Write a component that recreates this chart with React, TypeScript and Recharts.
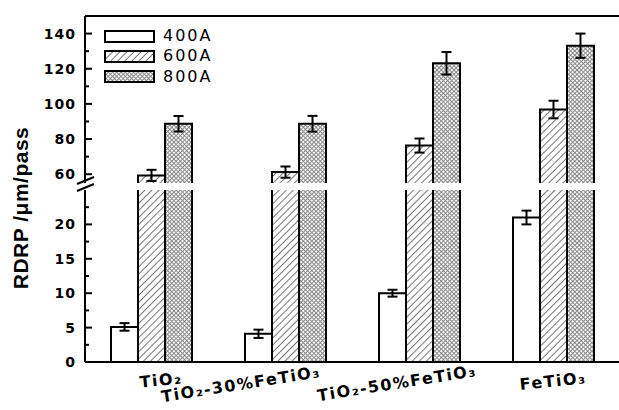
import React from "react";
import { BarChart, Bar, XAxis, YAxis, ErrorBar, Legend, ReferenceLine } from "recharts";

// RDRP (um/pass) per coating material and spray current
const materials = ["TiO₂", "TiO₂-30%FeTiO₃", "TiO₂-50%FeTiO₃", "FeTiO₃"];
const rate400 = [5.1, 4.1, 10.0, 21.0];
const rate600 = [59.3, 61.2, 76.3, 96.8];
const rate800 = [88.7, 88.7, 123.1, 133.1];
const err400 = [0.55, 0.6, 0.5, 1.0];
const err600 = [3.2, 3.2, 4.0, 5.0];
const err800 = [4.4, 4.5, 6.4, 6.9];

const upperTicks = [60, 70, 80, 90, 100, 110, 120, 130, 140];
const lowerTicks = [0, 2.5, 5, 7.5, 10, 12.5, 15, 17.5, 20, 22.5];

const data = materials.map((name, i) => ({
  name,
  a400: rate400[i],
  a600: rate600[i],
  a800: rate800[i],
  e400: err400[i],
  e600: err600[i],
  e800: err800[i],
}));

const SERIES = [
  { key: "a400", err: "e400", name: "400A", fill: "#ffffff" },
  { key: "a600", err: "e600", name: "600A", fill: "url(#hatch600)" },
  { key: "a800", err: "e800", name: "800A", fill: "url(#cross800)" },
];

const CHART_W = 640;
const AXIS_W = 85;
const TICK_GAP = 9;

// label placement for the tilted category names (offset from category centre)
const LABEL_POS = [
  { dx: 9, dy: 18, rot: -6 },
  { dx: -45, dy: 22, rot: -9 },
  { dx: -23, dy: 21, rot: -9 },
  { dx: -1, dy: 19, rot: -6 },
];

// bar with outline on left, top and right only (the break / axis hides the bottom)
const OpenBar = (props: any) => {
  let { x, y, width, height, fill, background } = props;
  if (height < 0) {
    y += height;
    height = -height;
  }
  if (!height) return null;
  // bar lies completely below this part of the broken axis
  if (background && y >= background.y + background.height - 0.5) return null;
  return (
    <g>
      <rect x={x} y={y} width={width} height={height} fill={fill} />
      <path
        d={`M${x},${y + height} V${y} H${x + width} V${y + height}`}
        fill="none"
        stroke="#000"
        strokeWidth={2}
      />
    </g>
  );
};

const makeYTick = (majorStep: number) => (props: any) => {
  const { x, y, payload } = props;
  const v = payload.value;
  const major = Math.abs(v % majorStep) < 1e-6;
  const axisX = x + TICK_GAP;
  return (
    <g>
      <line x1={axisX} x2={axisX + (major ? 7 : 4)} y1={y} y2={y} stroke="#000" strokeWidth={2} />
      {major && (
        <text
          x={x}
          y={y}
          dy="0.36em"
          textAnchor="end"
          fontFamily="DejaVu Sans"
          fontWeight="bold"
          fontSize={14}
          letterSpacing={1}
          fill="#000"
        >
          {v}
        </text>
      )}
    </g>
  );
};

const XTick = (props: any) => {
  const { x, y, payload } = props;
  const idx = materials.indexOf(payload.value);
  const p = LABEL_POS[idx] || { dx: 0, dy: 18, rot: 0 };
  const cx = x + p.dx;
  const cy = y + p.dy;
  return (
    <text
      x={cx}
      y={cy}
      dy="0.35em"
      textAnchor="middle"
      transform={`rotate(${p.rot}, ${cx}, ${cy})`}
      fontFamily="DejaVu Sans"
      fontWeight="bold"
      fontSize={16}
      letterSpacing={1.5}
      fill="#000"
    >
      {payload.value}
    </text>
  );
};

const LegendBox = () => (
  <div style={{ fontFamily: "DejaVu Sans", fontSize: 16, letterSpacing: 2, color: "#000" }}>
    {SERIES.map((s) => (
      <div key={s.key} style={{ display: "flex", alignItems: "center", height: 20.3 }}>
        <svg width={51} height={13} style={{ display: "block" }}>
          <rect x={1} y={1} width={49} height={11} fill={s.fill} stroke="#000" strokeWidth={2} />
        </svg>
        <span style={{ marginLeft: 8, lineHeight: "16px" }}>{s.name}</span>
      </div>
    ))}
  </div>
);

export default function App() {
  return (
    <div
      style={{
        position: "absolute",
        left: 0,
        top: 0,
        width: 619,
        height: 410,
        overflow: "hidden",
        background: "#fff",
      }}
    >
      <svg width={0} height={0} style={{ position: "absolute" }}>
        <defs>
          <pattern
            id="hatch600"
            patternUnits="userSpaceOnUse"
            width={5}
            height={5}
            patternTransform="rotate(45)"
          >
            <rect width={5} height={5} fill="#fff" />
            <line x1={2.5} y1={0} x2={2.5} y2={5} stroke="#777" strokeWidth={1} />
          </pattern>
          <pattern
            id="cross800"
            patternUnits="userSpaceOnUse"
            width={3}
            height={3}
            patternTransform="rotate(45)"
          >
            <rect width={3} height={3} fill="#fff" />
            <path d="M0,1.5H3M1.5,0V3" stroke="#888" strokeWidth={1} />
          </pattern>
        </defs>
      </svg>

      {/* upper part of the broken axis: 55 - 150 */}
      <div style={{ position: "absolute", left: 0, top: 0 }}>
        <BarChart
          width={CHART_W}
          height={183}
          data={data}
          margin={{ top: 16, right: CHART_W - 621, bottom: 0, left: 0 }}
          barCategoryGap={26}
          barGap={0}
        >
          <XAxis dataKey="name" hide />
          <YAxis
            type="number"
            domain={[55, 150]}
            allowDataOverflow
            ticks={upperTicks}
            interval={0}
            width={AXIS_W}
            axisLine={{ stroke: "#000", strokeWidth: 2 }}
            tickLine={false}
            tickSize={0}
            tickMargin={TICK_GAP}
            tick={makeYTick(20)}
          />
          <ReferenceLine y={150} stroke="#000" strokeWidth={2} />
          <Legend
            layout="vertical"
            align="center"
            verticalAlign="middle"
            content={<LegendBox />}
            wrapperStyle={{ left: 104, top: 26, width: "auto" }}
          />
          {SERIES.map((s) => (
            <Bar key={s.key} dataKey={s.key} name={s.name} fill={s.fill} shape={<OpenBar />} isAnimationActive={false}>
              {s.key !== "a400" && (
                <ErrorBar dataKey={s.err} width={5} stroke="#000" strokeWidth={2} direction="y" />
              )}
            </Bar>
          ))}
        </BarChart>
      </div>

      {/* lower part of the broken axis: 0 - 25 */}
      <div style={{ position: "absolute", left: 0, top: 190 }}>
        <BarChart
          width={CHART_W}
          height={220}
          data={data}
          margin={{ top: 0, right: CHART_W - 621, bottom: 0, left: 0 }}
          barCategoryGap={26}
          barGap={0}
        >
          <XAxis
            dataKey="name"
            height={48}
            interval={0}
            axisLine={{ stroke: "#000", strokeWidth: 2 }}
            tickLine={false}
            tickSize={0}
            tickMargin={0}
            tick={<XTick />}
          />
          <YAxis
            type="number"
            domain={[0, 25]}
            allowDataOverflow
            ticks={lowerTicks}
            interval={0}
            width={AXIS_W}
            axisLine={{ stroke: "#000", strokeWidth: 2 }}
            tickLine={false}
            tickSize={0}
            tickMargin={TICK_GAP}
            tick={makeYTick(5)}
          />
          {SERIES.map((s) => (
            <Bar key={s.key} dataKey={s.key} name={s.name} fill={s.fill} shape={<OpenBar />} isAnimationActive={false}>
              {s.key === "a400" && (
                <ErrorBar dataKey={s.err} width={5} stroke="#000" strokeWidth={2} direction="y" />
              )}
            </Bar>
          ))}
        </BarChart>
      </div>

      {/* axis title and break marks */}
      <svg width={619} height={410} style={{ position: "absolute", left: 0, top: 0, pointerEvents: "none" }}>
        <text
          transform="translate(28,208) rotate(-90)"
          textAnchor="middle"
          fontFamily="Liberation Sans"
          fontWeight="bold"
          fontSize={21}
          letterSpacing={0.5}
          fill="#000"
        >
          RDRP /μm/pass
        </text>
        <line x1={77} y1={184} x2={94} y2={177} stroke="#000" strokeWidth={2} />
        <line x1={77} y1={191} x2={94} y2={184} stroke="#000" strokeWidth={2} />
      </svg>
    </div>
  );
}
